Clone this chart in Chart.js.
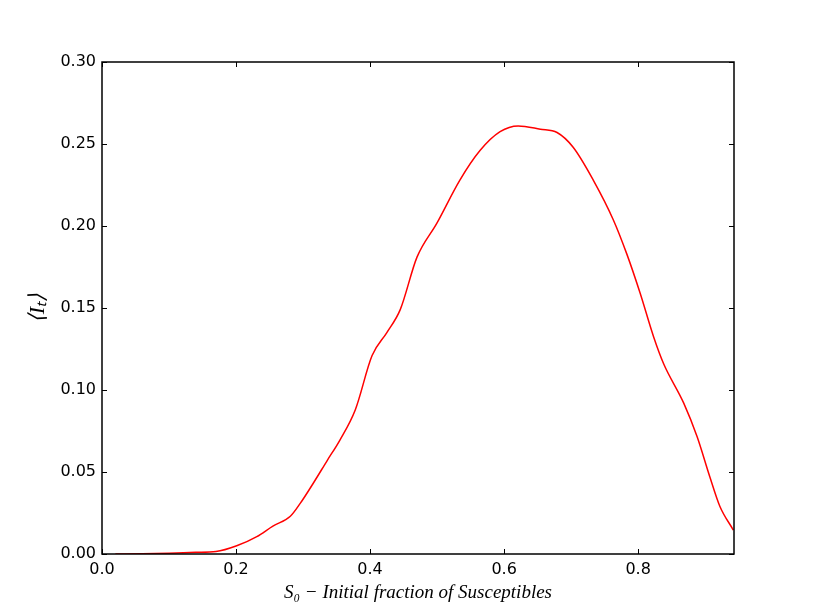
<!DOCTYPE html>
<html>
<head>
<meta charset="utf-8">
<script src="https://cdn.jsdelivr.net/npm/chart.js@4.4.1/dist/chart.umd.min.js"></script>
<style>
  html, body { margin: 0; padding: 0; background: #fff; }
  #wrap { width: 815px; height: 615px; }
</style>
</head>
<body>
<div id="wrap"><canvas id="chart" width="815" height="615"></canvas></div>
<script>
// values
const s0Values = [0.02, 0.06, 0.10, 0.14, 0.17, 0.201, 0.231, 0.255, 0.281, 0.296, 0.315, 0.336, 0.355,
  0.378, 0.403, 0.425, 0.445, 0.470, 0.4995, 0.534, 0.564, 0.594, 0.621, 0.654, 0.679, 0.703,
  0.733, 0.763, 0.783, 0.803, 0.823, 0.838, 0.868, 0.888, 0.907, 0.922, 0.942];
const infectedValues = [0.0, 0.0002, 0.0005, 0.001, 0.0015, 0.005, 0.0106, 0.017, 0.023, 0.031, 0.043, 0.057, 0.0695,
  0.088, 0.121, 0.135, 0.149, 0.181, 0.2016, 0.228, 0.246, 0.2575, 0.261, 0.259, 0.257, 0.248,
  0.228, 0.2037, 0.183, 0.159, 0.1325, 0.116, 0.092, 0.0715, 0.047, 0.029, 0.0146];
const xTickValues = [0.0, 0.2, 0.4, 0.6, 0.8];
const yTickValues = [0.00, 0.05, 0.10, 0.15, 0.20, 0.25, 0.30];

const xMax = 0.943;
const tickFont = { family: 'DejaVu Sans', size: 16 };

// frame + inward ticks on all four sides, like the old matplotlib style
const frameTicks = {
  id: 'frameTicks',
  afterDraw(chart) {
    const { ctx, chartArea: a, scales } = chart;
    ctx.save();
    ctx.strokeStyle = '#000';
    ctx.lineWidth = 1;
    const len = 5;
    ctx.beginPath();
    xTickValues.forEach(v => {
      const px = Math.round(scales.x.getPixelForValue(v)) + 0.5;
      ctx.moveTo(px, a.bottom); ctx.lineTo(px, a.bottom - len);
      ctx.moveTo(px, a.top); ctx.lineTo(px, a.top + len);
    });
    yTickValues.forEach(v => {
      const py = Math.round(scales.y.getPixelForValue(v)) + 0.5;
      ctx.moveTo(a.left, py); ctx.lineTo(a.left + len, py);
      ctx.moveTo(a.right, py); ctx.lineTo(a.right - len, py);
    });
    ctx.stroke();
    ctx.lineWidth = 1.5;
    ctx.strokeRect(a.left, a.top, a.right - a.left, a.bottom - a.top);
    ctx.restore();
  }
};

new Chart(document.getElementById('chart'), {
  type: 'line',
  data: {
    datasets: [{
      data: s0Values.map((x, i) => ({ x: x, y: infectedValues[i] })),
      borderColor: '#ff0000',
      borderWidth: 1.5,
      pointRadius: 0,
      fill: false,
      cubicInterpolationMode: 'monotone'
    }]
  },
  options: {
    responsive: false,
    animation: false,
    layout: { padding: { left: 0, top: 62, right: 81, bottom: 0 } },
    plugins: { legend: { display: false }, tooltip: { enabled: false } },
    scales: {
      x: {
        type: 'linear',
        min: 0,
        max: xMax,
        grid: { display: false, drawTicks: false },
        border: { display: false },
        afterBuildTicks: s => { s.ticks = xTickValues.map(v => ({ value: v })); },
        afterFit: s => { s.height = 61; },
        ticks: {
          padding: 6,
          color: '#000',
          font: tickFont,
          callback: v => v.toFixed(1)
        },
        title: {
          display: true,
          text: 'S\u2080 \u2212 Initial fraction of Susceptibles',
          color: '#000',
          font: { family: 'Liberation Serif', size: 19, style: 'italic' },
          padding: { top: 4, bottom: 11 }
        }
      },
      y: {
        min: 0,
        max: 0.3,
        grid: { display: false, drawTicks: false },
        border: { display: false },
        afterBuildTicks: s => { s.ticks = yTickValues.map(v => ({ value: v })); },
        afterFit: s => { s.width = 102; },
        ticks: {
          padding: 6,
          color: '#000',
          font: tickFont,
          callback: v => v.toFixed(2)
        },
        title: {
          display: true,
          text: '\u27E8I\u209C\u27E9',
          color: '#000',
          font: { family: 'Liberation Serif', size: 22, style: 'italic' },
          padding: { top: 25, bottom: 0 }
        }
      }
    }
  },
  plugins: [frameTicks]
});
</script>
</body>
</html>
